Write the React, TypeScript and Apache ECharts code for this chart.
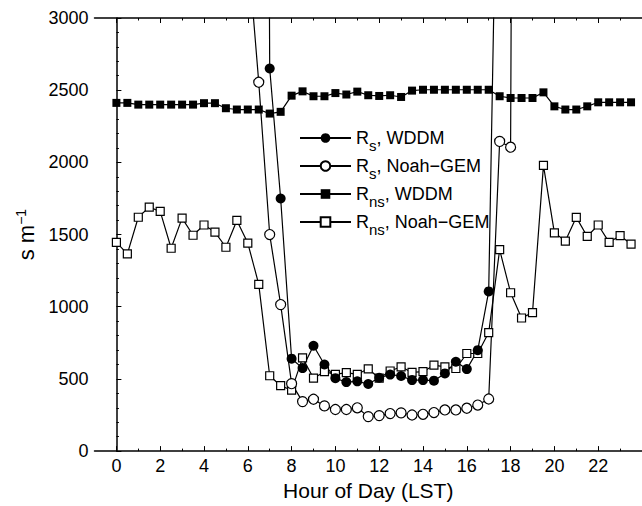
import React, { useEffect, useRef } from "react";
import * as echarts from "echarts";

// Hour of day (LST), half-hourly
const hours = [
  0, 0.5, 1, 1.5, 2, 2.5, 3, 3.5, 4, 4.5, 5, 5.5, 6, 6.5, 7, 7.5, 8, 8.5, 9, 9.5,
  10, 10.5, 11, 11.5, 12, 12.5, 13, 13.5, 14, 14.5, 15, 15.5, 16, 16.5, 17, 17.5,
  18, 18.5, 19, 19.5, 20, 20.5, 21, 21.5, 22, 22.5, 23, 23.5,
];

// Rs, WDDM (filled circles) — night values far above the plotted range
const rsWddm = [
  20000, 20000, 20000, 20000, 20000, 20000, 20000, 20000, 20000, 20000, 20000, 20000, 20000, 20000,
  2650, 1750, 640, 575, 730, 600, 505, 478, 483, 465, 508, 530, 520, 492, 492, 488,
  538, 619, 568, 699, 1106, 5300,
  20000, 20000, 20000, 20000, 20000, 20000, 20000, 20000, 20000, 20000, 20000, 20000,
];

// Rs, Noah-GEM (open circles)
const rsNoah = [
  20000, 20000, 20000, 20000, 20000, 20000, 20000, 20000, 20000, 20000, 20000, 20000,
  3480, 2555, 1500, 1015, 467, 343, 359, 313, 288, 288, 300, 239, 246, 260, 265, 250,
  255, 267, 285, 285, 297, 319, 361, 2145, 2105,
  20000, 20000, 20000, 20000, 20000, 20000, 20000, 20000, 20000, 20000, 20000,
];

// Rns, WDDM (filled squares)
const rnsWddm = [
  2412, 2412, 2400, 2400, 2400, 2400, 2400, 2400, 2410, 2410, 2375, 2366, 2366, 2366,
  2338, 2350, 2462, 2492, 2458, 2458, 2480, 2470, 2490, 2465, 2460, 2465, 2453, 2497,
  2503, 2503, 2503, 2503, 2503, 2503, 2503, 2458, 2446, 2446, 2446, 2485, 2388, 2366,
  2366, 2388, 2416, 2416, 2416, 2416,
];

// Rns, Noah-GEM (open squares)
const rnsNoah = [
  1446, 1366, 1620, 1690, 1660, 1405, 1614, 1495, 1566, 1517, 1412, 1598, 1441, 1155,
  522, 453, 422, 646, 505, 550, 532, 544, 532, 570, 505, 555, 584, 545, 550, 595, 584,
  572, 676, 676, 821, 1395, 1097, 922, 959, 1979, 1512, 1455, 1619, 1487, 1566, 1446,
  1492, 1434,
];

const majorHours = [0, 2, 4, 6, 8, 10, 12, 14, 16, 18, 20, 22, 24];
const minorHours = [1, 3, 5, 7, 9, 11, 13, 15, 17, 19, 21, 23];
const labelHours = [0, 2, 4, 6, 8, 10, 12, 14, 16, 18, 20, 22];

const FONT = "'Liberation Sans', Arial, Helvetica, sans-serif";

const legendText: Record<string, string> = {
  rsW: "{m|R}{s|s}{m|, WDDM}",
  rsN: "{m|R}{s|s}{m|, Noah\u2212GEM}",
  rnsW: "{m|R}{s|ns}{m|, WDDM}",
  rnsN: "{m|R}{s|ns}{m|, Noah\u2212GEM}",
};

export default function App() {
  const ref = useRef<HTMLDivElement>(null);

  useEffect(() => {
    if (!ref.current) return;
    const chart = echarts.init(ref.current, undefined, { renderer: "svg" });

    const pair = (vals: number[]) => hours.map((h, i) => [h, vals[i]]);
    const lineStyle = { color: "#000", width: 1.2 };

    const xCommon = {
      type: "value" as const,
      min: -1,
      max: 24,
      splitLine: { show: false },
    };

    chart.setOption({
      animation: false,
      backgroundColor: "#fff",
      textStyle: { fontFamily: FONT, color: "#000" },
      grid: { left: 94.5, top: 18, width: 555.1, height: 435, containLabel: false },
      legend: {
        orient: "vertical",
        left: 299,
        top: 129,
        padding: 0,
        itemGap: 4,
        itemWidth: 51,
        itemHeight: 12,
        data: ["rsW", "rsN", "rnsW", "rnsN"],
        formatter: (name: string) => legendText[name],
        textStyle: {
          color: "#000",
          fontFamily: FONT,
          rich: {
            m: { fontSize: 18, lineHeight: 30, verticalAlign: "middle", fontFamily: FONT, color: "#000" },
            s: { fontSize: 15, lineHeight: 30, verticalAlign: "bottom", fontFamily: FONT, color: "#000" },
          },
        },
        selectedMode: false,
      },
      xAxis: [
        {
          ...xCommon,
          position: "bottom",
          name: "Hour of Day (LST)",
          nameLocation: "middle",
          nameGap: 25,
          nameTextStyle: { fontSize: 21, color: "#000", fontFamily: FONT },
          axisLine: { show: true, lineStyle: { color: "#000", width: 1.5 } },
          axisTick: { show: true, inside: true, length: 5, customValues: majorHours, lineStyle: { color: "#000", width: 1 } },
          axisLabel: { show: true, customValues: labelHours, fontSize: 18, color: "#000", margin: 6, fontFamily: FONT },
        },
        {
          ...xCommon,
          position: "bottom",
          axisLine: { show: false },
          axisTick: { show: true, inside: true, length: 2.5, customValues: minorHours, lineStyle: { color: "#000", width: 1 } },
          axisLabel: { show: false },
        },
        {
          ...xCommon,
          position: "top",
          axisLine: { show: true, lineStyle: { color: "#000", width: 1.5 } },
          axisTick: { show: true, inside: true, length: 5, customValues: majorHours, lineStyle: { color: "#000", width: 1 } },
          axisLabel: { show: false },
        },
        {
          ...xCommon,
          position: "top",
          axisLine: { show: false },
          axisTick: { show: true, inside: true, length: 2.5, customValues: minorHours, lineStyle: { color: "#000", width: 1 } },
          axisLabel: { show: false },
        },
      ],
      yAxis: [
        {
          type: "value",
          min: 0,
          max: 3000,
          interval: 500,
          position: "left",
          name: "{a|s m}{b|\u22121}",
          nameLocation: "middle",
          nameGap: 46,
          nameRotate: 90,
          nameTextStyle: {
            rich: {
              a: { fontSize: 22, lineHeight: 26, verticalAlign: "middle", fontFamily: FONT, color: "#000" },
              b: { fontSize: 14, lineHeight: 26, verticalAlign: "top", fontFamily: FONT, color: "#000" },
            },
          },
          splitLine: { show: false },
          axisLine: { show: true, lineStyle: { color: "#000", width: 1.5 } },
          axisTick: { show: true, inside: true, length: 5, lineStyle: { color: "#000", width: 1 } },
          minorTick: { show: true, splitNumber: 5, length: 2.5, lineStyle: { color: "#000", width: 1 } },
          axisLabel: {
            fontSize: 18,
            color: "#000",
            margin: 6,
            fontFamily: FONT,
            formatter: (v: number) => String(v),
          },
        },
      ],
      series: [
        {
          name: "rnsW",
          type: "line",
          data: pair(rnsWddm),
          symbol: "rect",
          symbolSize: 8,
          itemStyle: { color: "#000" },
          lineStyle,
          clip: true,
        },
        {
          name: "rnsN",
          type: "line",
          data: pair(rnsNoah),
          symbol: "rect",
          symbolSize: 8,
          itemStyle: { color: "#fff", borderColor: "#000", borderWidth: 1.2 },
          lineStyle,
          clip: true,
        },
        {
          name: "rsN",
          type: "line",
          data: pair(rsNoah),
          symbol: "circle",
          symbolSize: 10,
          itemStyle: { color: "#fff", borderColor: "#000", borderWidth: 1.2 },
          lineStyle,
          clip: true,
        },
        {
          name: "rsW",
          type: "line",
          data: pair(rsWddm),
          symbol: "circle",
          symbolSize: 10,
          itemStyle: { color: "#000" },
          lineStyle,
          clip: true,
        },
      ],
    });

    return () => chart.dispose();
  }, []);

  return <div ref={ref} style={{ width: 642, height: 506, position: "absolute", left: 0, top: 0 }} />;
}
